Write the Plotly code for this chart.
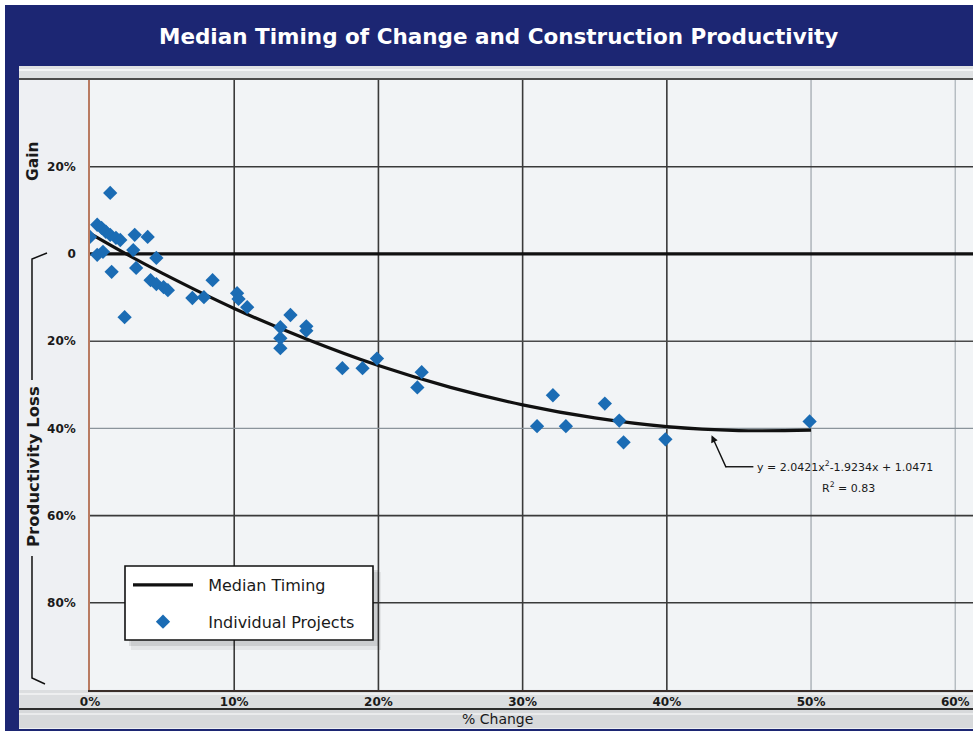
import plotly.graph_objects as go

# ---------------- data ----------------
# Individual projects: x = % change, y = productivity change in % (+ gain, - loss)
proj_x = [1.4, 0.0, 0.5, 0.8, 1.1, 1.4, 1.8, 2.1, 3.1, 4.0, 3.0, 0.5, 0.9, 4.6,
          1.5, 3.2, 2.4, 4.2, 4.6, 5.1, 5.4, 7.1, 7.9, 8.5, 10.2, 10.3, 10.9,
          13.9, 15.0, 15.0, 13.2, 13.2, 13.2, 17.5, 18.9, 19.9, 23.0, 22.7,
          31.0, 32.1, 33.0, 35.7, 36.7, 37.0, 39.9, 49.9]
proj_y = [14.0, 3.9, 6.7, 6.0, 5.1, 4.4, 3.7, 3.2, 4.4, 3.9, 0.9, -0.2, 0.5, -0.9,
          -4.1, -3.2, -14.5, -6.0, -6.9, -7.6, -8.3, -10.1, -9.9, -6.0, -9.0, -10.3, -12.2,
          -14.0, -16.6, -17.6, -16.8, -19.3, -21.6, -26.2, -26.2, -24.0, -27.1, -30.6,
          -39.5, -32.4, -39.5, -34.3, -38.2, -43.2, -42.5, -38.4]

# Median timing trend line
curve_x = [0, 2.5, 5, 10, 15, 20, 25, 30, 35, 40, 45, 50]
curve_y = [4.7, 0.0, -4.4, -12.5, -19.5, -25.6, -30.6, -34.6, -37.6, -39.6, -40.5, -40.4]

x_tickvals = [0, 10, 20, 30, 40, 50, 60]
x_ticktext = ["0%", "10%", "20%", "30%", "40%", "50%", "60%"]
y_tickvals = [20, 0, -20, -40, -60, -80]
y_ticktext = ["20%", "0", "20%", "40%", "60%", "80%"]

title_text = "Median Timing of Change and Construction Productivity"
x_title = "% Change"
eq_text = "y = 2.0421x<sup>2</sup>-1.9234x + 1.0471"
r2_text = "R<sup>2</sup> = 0.83"
series_names = ["Median Timing", "Individual Projects"]

# ---------------- styles ----------------
W, H = 973, 734
L, R, T, B = 90, 0, 80, 44
PW, PH = W - L - R, H - T - B
NAVY = "#1c2673"
BLUE = "#1b6cb4"
FONT = "DejaVu Sans, Liberation Sans, Arial, sans-serif"
NB = "\u00a0\u00a0"

X_RANGE = [0, 61.23]
Y_RANGE = [-100, 39.9]

vgrid_style = {10: ("#3a3a3a", 1.6), 20: ("#3a3a3a", 1.6), 30: ("#3a3a3a", 1.6),
               40: ("#3a3a3a", 1.6), 50: ("#a9b0b6", 1.4), 60: ("#b3bac0", 1.4)}
hgrid_style = {20: ("#3a3a3a", 1.6), 0: ("#111111", 3.2), -20: ("#4a4a4a", 1.5),
               -40: ("#8b949b", 1.4), -60: ("#3a3a3a", 1.6), -80: ("#3a3a3a", 1.6)}


def px(xp):
    return (xp - L) / PW


def py(yp):
    return (H - B - yp) / PH


def prect(x0, y0, x1, y1, fill, layer="below", line=None):
    d = dict(type="rect", xref="paper", yref="paper",
             x0=px(x0), x1=px(x1), y0=py(y1), y1=py(y0),
             fillcolor=fill, layer=layer, line=dict(width=0))
    if line:
        d["line"] = line
    return d


def pline(x0, y0, x1, y1, color, width, layer="below"):
    return dict(type="line", xref="paper", yref="paper",
                x0=px(x0), x1=px(x1), y0=py(y0), y1=py(y1),
                line=dict(color=color, width=width), layer=layer)


shapes = [
    prect(5, 5, 973, 731, NAVY),
    prect(19, 66, 973, 729, "#eef0f3"),
    prect(19, 66, 973, 79, "#dfe1e3"),
    pline(19, 70, 973, 70, "#f4f5f6", 2),
    pline(19, 79, 973, 79, "#4d4d4d", 2),
    prect(90, 80, 973, 689, "#f2f4f6"),
    prect(19, 690, 973, 708, "#dcdee0"),
    pline(19, 709, 973, 709, "#2e2e2e", 2),
    prect(19, 710, 973, 728, "#d7d9db"),
    pline(19, 694, 973, 694, "#eeeff0", 2),
    pline(19, 714, 973, 714, "#eaebec", 2),
    # bracket for the "Productivity Loss" label
    dict(type="path", xref="paper", yref="paper", layer="below",
         path="M {:.5f},{:.5f} L {:.5f},{:.5f} L {:.5f},{:.5f}".format(
             px(47), py(253), px(32), py(259), px(32), py(380)),
         line=dict(color="#111111", width=1.5)),
    dict(type="path", xref="paper", yref="paper", layer="below",
         path="M {:.5f},{:.5f} L {:.5f},{:.5f} L {:.5f},{:.5f}".format(
             px(32), py(556), px(32), py(678), px(45), py(684)),
         line=dict(color="#111111", width=1.5)),
]

# gridlines, driven by the tick lists
for v in x_tickvals:
    if v in vgrid_style:
        c, w = vgrid_style[v]
        shapes.append(dict(type="line", xref="x", yref="paper", x0=v, x1=v, y0=0, y1=1,
                           line=dict(color=c, width=w), layer="below"))
for v in y_tickvals:
    c, w = hgrid_style[v]
    shapes.append(dict(type="line", xref="paper", yref="y", x0=0, x1=1, y0=v, y1=v,
                       line=dict(color=c, width=w), layer="below"))

# legend box with soft shadow
shapes += [
    prect(131, 572, 381, 650, "rgba(0,0,0,0.06)", layer="above"),
    prect(129, 570, 378, 646, "rgba(0,0,0,0.10)", layer="above"),
    prect(125, 566, 373, 640, "#ffffff", layer="above",
          line=dict(color="#111111", width=1.6)),
]

fig = go.Figure()
fig.add_trace(go.Scatter(
    x=curve_x, y=curve_y, mode="lines", name=NB + series_names[0],
    line=dict(color="#111111", width=3.2, shape="spline", smoothing=1.0),
    legendgroup="a", hoverinfo="skip"))
fig.add_trace(go.Scatter(
    x=proj_x, y=proj_y, mode="markers", name=NB + series_names[1],
    marker=dict(symbol="diamond", size=11, color=BLUE, line=dict(width=0)),
    legendgroup="b"))

annotations = [
    dict(text="<b>" + title_text + "</b>", xref="paper", yref="paper",
         x=px(498), y=py(37), xanchor="center", yanchor="middle", showarrow=False,
         font=dict(family=FONT, size=21.5, color="#ffffff")),
    dict(text=x_title, xref="paper", yref="paper", x=px(497), y=py(719),
         xanchor="center", yanchor="middle", showarrow=False,
         font=dict(family=FONT, size=14, color="#1a1a1a")),
    dict(text="<b>Gain</b>", xref="paper", yref="paper", x=px(33), y=py(161),
         xanchor="center", yanchor="middle", textangle=-90, showarrow=False,
         font=dict(family=FONT, size=15.5, color="#1a1a1a")),
    dict(text="<b>Productivity Loss</b>", xref="paper", yref="paper", x=px(33), y=py(467),
         xanchor="center", yanchor="middle", textangle=-90, showarrow=False,
         font=dict(family=FONT, size=16.5, color="#1a1a1a")),
    # arrow pointing to the fitted curve
    dict(text=" ", xref="x", yref="y", x=43.1, y=-41.6, ax=15, ay=33,
         font=dict(size=1), borderpad=0,
         showarrow=True, arrowhead=2, arrowsize=1, arrowwidth=1.4, arrowcolor="#111111"),
    dict(text=eq_text, xref="x", yref="y", x=46.1, y=-48.8, xanchor="left",
         yanchor="middle", showarrow=False,
         font=dict(family=FONT, size=11, color="#1a1a1a")),
    dict(text=r2_text, xref="x", yref="y", x=52.6, y=-53.6, xanchor="center",
         yanchor="middle", showarrow=False,
         font=dict(family=FONT, size=11, color="#1a1a1a")),
]
shapes.append(dict(type="line", xref="x", yref="y", x0=44.1, x1=46.0, y0=-48.8, y1=-48.8,
                   line=dict(color="#111111", width=1.4), layer="above"))

fig.update_layout(
    width=W, height=H,
    margin=dict(l=L, r=R, t=T, b=B, pad=0),
    paper_bgcolor="#ffffff", plot_bgcolor="#f2f4f6",
    shapes=shapes, annotations=annotations,
    showlegend=True,
    legend=dict(x=px(128), y=py(568), xanchor="left", yanchor="top",
                bgcolor="rgba(0,0,0,0)", borderwidth=0,
                font=dict(family=FONT, size=16, color="#1a1a1a"),
                itemwidth=60, tracegroupgap=13, traceorder="grouped"),
    xaxis=dict(range=X_RANGE, tickvals=x_tickvals, ticktext=x_ticktext,
               showgrid=False, zeroline=False, showline=True,
               linecolor="#3a2e2a", linewidth=2, ticks="", fixedrange=True,
               tickfont=dict(family=FONT, size=12, color="#1a1a1a", weight="bold")),
    yaxis=dict(range=Y_RANGE, tickvals=y_tickvals, ticktext=y_ticktext,
               showgrid=False, zeroline=False, showline=True,
               linecolor="#b97b62", linewidth=1.5, ticks="outside", ticklen=10,
               tickcolor="rgba(0,0,0,0)", fixedrange=True,
               tickfont=dict(family=FONT, size=12, color="#1a1a1a", weight="bold")),
)

fig.write_html("out.html", config={"displayModeBar": False},
               post_script="document.body.style.margin='0px';")
